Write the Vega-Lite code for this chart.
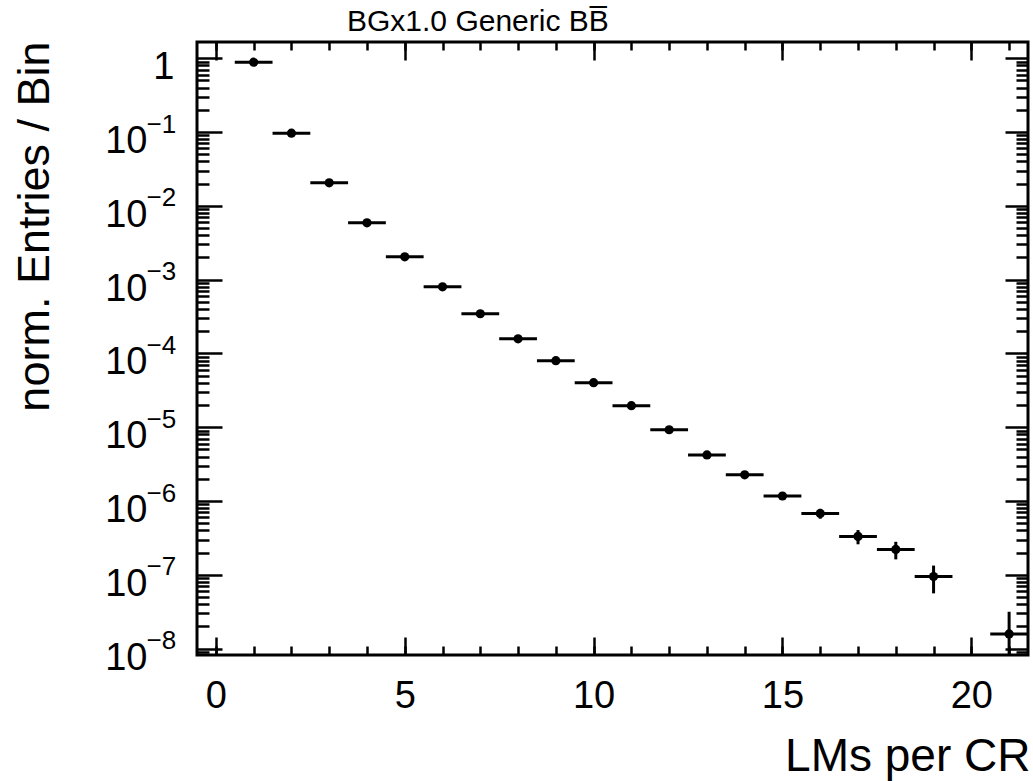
{
  "$schema": "https://vega.github.io/schema/vega-lite/v6.json",
  "width": 831,
  "height": 613,
  "autosize": {"type": "none"},
  "padding": {"left": 197, "top": 42, "right": 5, "bottom": 126},
  "background": "white",
  "title": {"text": "BGx1.0 Generic BB\u0305", "anchor": "start", "frame": "group", "dx": 150, "offset": -20, "fontSize": 30, "font": "Liberation Sans", "fontWeight": "normal", "color": "black", "baseline": "alphabetic"},
  "config": {
    "font": "Liberation Sans",
    "view": {"stroke": "black", "strokeWidth": 3},
    "axis": {"domain": false, "grid": false, "tickColor": "black", "tickWidth": 2.5, "labelColor": "black", "titleColor": "black", "labelFont": "Liberation Sans", "titleFont": "Liberation Sans", "titleFontWeight": "normal", "labelFlush": false, "labelOverlap": false}
  },
  "data": {"values": [
    {"x": 1, "xlo": 0.5, "xhi": 1.5, "y": 0.883, "ylo": 0.88288, "yhi": 0.88312},
    {"x": 2, "xlo": 1.5, "xhi": 2.5, "y": 0.0966, "ylo": 0.09656, "yhi": 0.09664},
    {"x": 3, "xlo": 2.5, "xhi": 3.5, "y": 0.0205, "ylo": 0.020482, "yhi": 0.020518},
    {"x": 4, "xlo": 3.5, "xhi": 4.5, "y": 0.00589, "ylo": 0.00588, "yhi": 0.0059},
    {"x": 5, "xlo": 4.5, "xhi": 5.5, "y": 0.00204, "ylo": 0.002034, "yhi": 0.002046},
    {"x": 6, "xlo": 5.5, "xhi": 6.5, "y": 0.0008, "ylo": 0.0007964, "yhi": 0.0008036},
    {"x": 7, "xlo": 6.5, "xhi": 7.5, "y": 0.000345, "ylo": 0.0003427, "yhi": 0.0003473},
    {"x": 8, "xlo": 7.5, "xhi": 8.5, "y": 0.000158, "ylo": 0.0001564, "yhi": 0.0001596},
    {"x": 9, "xlo": 8.5, "xhi": 9.5, "y": 0.0000798, "ylo": 0.0000787, "yhi": 0.0000809},
    {"x": 10, "xlo": 9.5, "xhi": 10.5, "y": 0.0000402, "ylo": 0.0000394, "yhi": 0.000041},
    {"x": 11, "xlo": 10.5, "xhi": 11.5, "y": 0.0000196, "ylo": 0.00001904, "yhi": 0.00002016},
    {"x": 12, "xlo": 11.5, "xhi": 12.5, "y": 0.00000925, "ylo": 0.00000887, "yhi": 0.00000963},
    {"x": 13, "xlo": 12.5, "xhi": 13.5, "y": 0.00000422, "ylo": 0.00000396, "yhi": 0.00000448},
    {"x": 14, "xlo": 13.5, "xhi": 14.5, "y": 0.00000227, "ylo": 0.00000208, "yhi": 0.00000246},
    {"x": 15, "xlo": 14.5, "xhi": 15.5, "y": 0.00000117, "ylo": 0.000001034, "yhi": 0.000001306},
    {"x": 16, "xlo": 15.5, "xhi": 16.5, "y": 6.79e-7, "ylo": 5.76e-7, "yhi": 7.83e-7},
    {"x": 17, "xlo": 16.5, "xhi": 17.5, "y": 3.32e-7, "ylo": 2.594e-7, "yhi": 4.042e-7},
    {"x": 18, "xlo": 17.5, "xhi": 18.5, "y": 2.21e-7, "ylo": 1.621e-7, "yhi": 2.803e-7},
    {"x": 19, "xlo": 18.5, "xhi": 19.5, "y": 9.48e-8, "ylo": 5.61e-8, "yhi": 1.335e-7},
    {"x": 21, "xlo": 20.5, "xhi": 21.5, "y": 1.58e-8, "ylo": 1e-12, "yhi": 3.16e-8}
  ]},
  "resolve": {"axis": {"x": "independent", "y": "independent"}},
  "layer": [
    {
      "mark": {"type": "rule", "strokeWidth": 3, "color": "black", "clip": true},
      "encoding": {
        "x": {"field": "xlo", "type": "quantitative", "scale": {"type": "linear", "domain": [-0.5, 21.5], "nice": false, "zero": false},
          "axis": {"orient": "bottom", "values": [0, 5, 10, 15, 20], "ticks": false, "tickSize": 0, "labelFontSize": 38, "labelPadding": 52, "labelBaseline": "alphabetic", "format": "d",
            "title": "LMs per CR", "titleFontSize": 46, "titleAnchor": "end", "titleAlign": "right", "titleX": 833, "titleY": 115, "titleBaseline": "alphabetic"}},
        "x2": {"field": "xhi"},
        "y": {"field": "y", "type": "quantitative", "scale": {"type": "log", "domain": [8.2e-9, 1.66], "nice": false, "clamp": true},
          "axis": {"orient": "left", "values": [1e-8, 1e-7, 1e-6, 1e-5, 1e-4, 1e-3, 1e-2, 1e-1, 1], "ticks": false, "tickSize": 0,
            "labelExpr": "datum.value > 0.5 ? '1' : '10'", "labelFontSize": 38,
            "labelPadding": {"condition": {"test": "datum.value > 0.5", "value": 23}, "value": 50},
            "labelBaseline": "alphabetic", "labelOffset": 20.5,
            "title": "norm. Entries / Bin", "titleFontSize": 45, "titleAngle": -90, "titleAlign": "right", "titleBaseline": "alphabetic", "titleX": -149, "titleY": -1}}
      }
    },
    {
      "mark": {"type": "rule", "strokeWidth": 3, "color": "black", "clip": true},
      "encoding": {
        "x": {"field": "x", "type": "quantitative", "scale": {"type": "linear", "domain": [-0.5, 21.5], "nice": false, "zero": false},
          "axis": {"orient": "bottom", "values": [0, 5, 10, 15, 20], "labels": false, "tickSize": -18, "title": null}},
        "y": {"field": "ylo", "type": "quantitative", "scale": {"type": "log", "domain": [8.2e-9, 1.66], "nice": false, "clamp": true},
          "axis": {"orient": "left", "values": [1e-8, 1e-7, 1e-6, 1e-5, 1e-4, 1e-3, 1e-2, 1e-1, 1], "labels": false, "tickSize": -25, "title": null}},
        "y2": {"field": "yhi"}
      }
    },
    {
      "mark": {"type": "point", "filled": true, "shape": "circle", "size": 85, "color": "black", "opacity": 1},
      "encoding": {
        "x": {"field": "x", "type": "quantitative", "scale": {"type": "linear", "domain": [-0.5, 21.5], "nice": false, "zero": false},
          "axis": {"orient": "bottom", "values": [0,1,2,3,4,5,6,7,8,9,10,11,12,13,14,15,16,17,18,19,20,21], "labels": false, "tickSize": -9, "title": null}},
        "y": {"field": "y", "type": "quantitative", "scale": {"type": "log", "domain": [8.2e-9, 1.66], "nice": false, "clamp": true},
          "axis": {"orient": "left", "values": [9e-9, 2e-8,3e-8,4e-8,5e-8,6e-8,7e-8,8e-8,9e-8, 2e-7,3e-7,4e-7,5e-7,6e-7,7e-7,8e-7,9e-7, 2e-6,3e-6,4e-6,5e-6,6e-6,7e-6,8e-6,9e-6, 2e-5,3e-5,4e-5,5e-5,6e-5,7e-5,8e-5,9e-5, 2e-4,3e-4,4e-4,5e-4,6e-4,7e-4,8e-4,9e-4, 2e-3,3e-3,4e-3,5e-3,6e-3,7e-3,8e-3,9e-3, 0.02,0.03,0.04,0.05,0.06,0.07,0.08,0.09, 0.2,0.3,0.4,0.5,0.6,0.7,0.8,0.9], "labels": false, "tickSize": -12, "title": null}}
      }
    },
    {
      "mark": {"type": "point", "filled": true, "opacity": 0},
      "encoding": {
        "x": {"field": "x", "type": "quantitative", "scale": {"type": "linear", "domain": [-0.5, 21.5], "nice": false, "zero": false},
          "axis": {"orient": "top", "values": [0, 5, 10, 15, 20], "labels": false, "tickSize": -18, "title": null}},
        "y": {"field": "y", "type": "quantitative", "scale": {"type": "log", "domain": [8.2e-9, 1.66], "nice": false, "clamp": true},
          "axis": {"orient": "right", "values": [1e-8, 1e-7, 1e-6, 1e-5, 1e-4, 1e-3, 1e-2, 1e-1, 1], "labels": false, "tickSize": -23, "title": null}}
      }
    },
    {
      "mark": {"type": "point", "filled": true, "opacity": 0},
      "encoding": {
        "x": {"field": "x", "type": "quantitative", "scale": {"type": "linear", "domain": [-0.5, 21.5], "nice": false, "zero": false},
          "axis": {"orient": "top", "values": [0,1,2,3,4,5,6,7,8,9,10,11,12,13,14,15,16,17,18,19,20,21], "labels": false, "tickSize": -8, "title": null}},
        "y": {"field": "y", "type": "quantitative", "scale": {"type": "log", "domain": [8.2e-9, 1.66], "nice": false, "clamp": true},
          "axis": {"orient": "right", "values": [9e-9, 2e-8,3e-8,4e-8,5e-8,6e-8,7e-8,8e-8,9e-8, 2e-7,3e-7,4e-7,5e-7,6e-7,7e-7,8e-7,9e-7, 2e-6,3e-6,4e-6,5e-6,6e-6,7e-6,8e-6,9e-6, 2e-5,3e-5,4e-5,5e-5,6e-5,7e-5,8e-5,9e-5, 2e-4,3e-4,4e-4,5e-4,6e-4,7e-4,8e-4,9e-4, 2e-3,3e-3,4e-3,5e-3,6e-3,7e-3,8e-3,9e-3, 0.02,0.03,0.04,0.05,0.06,0.07,0.08,0.09, 0.2,0.3,0.4,0.5,0.6,0.7,0.8,0.9], "labels": false, "tickSize": -12, "title": null}}
      }
    },
    {
      "mark": {"type": "point", "filled": true, "opacity": 0},
      "encoding": {
        "x": {"field": "x", "type": "quantitative", "scale": {"type": "linear", "domain": [-0.5, 21.5], "nice": false, "zero": false}, "axis": null},
        "y": {"field": "y", "type": "quantitative", "scale": {"type": "log", "domain": [8.2e-9, 1.66], "nice": false, "clamp": true},
          "axis": {"orient": "left", "values": [1e-8, 1e-7, 1e-6, 1e-5, 1e-4, 1e-3, 1e-2, 1e-1], "ticks": false, "tickSize": 0,
            "labelExpr": "['', '−1', '−2', '−3', '−4', '−5', '−6', '−7', '−8'][round(-log(datum.value) / LN10)]",
            "labelFontSize": 26, "labelAlign": "left", "labelPadding": 51, "labelBaseline": "alphabetic", "labelOffset": 0, "title": null}}
      }
    }
  ]
}
